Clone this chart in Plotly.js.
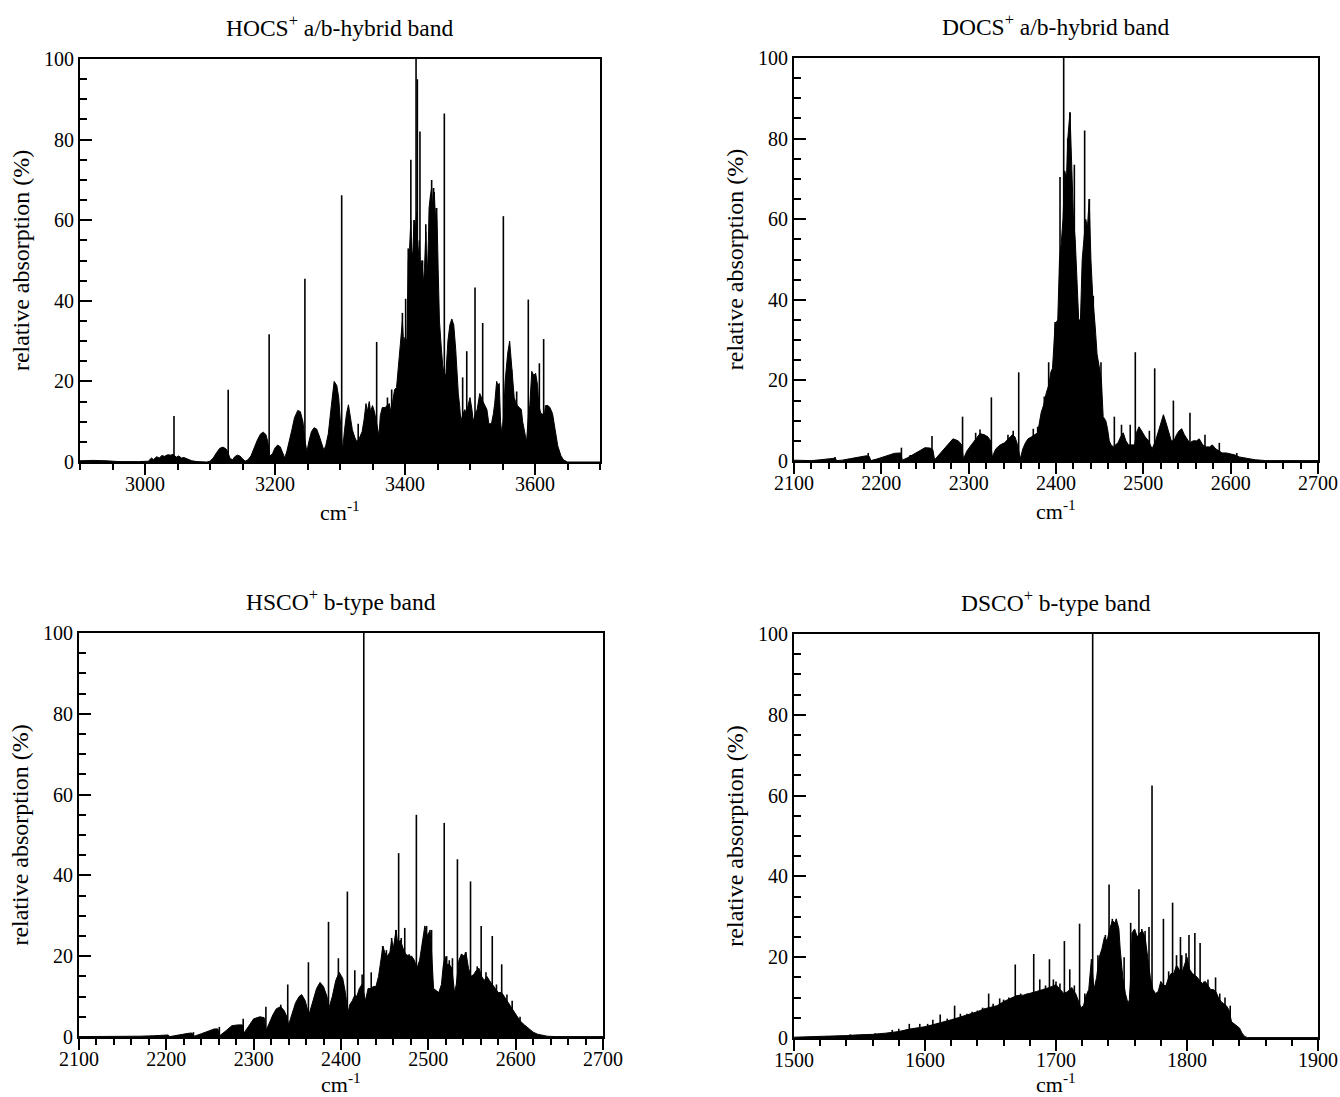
<!DOCTYPE html>
<html><head><meta charset="utf-8">
<script src="https://cdn.plot.ly/plotly-3.0.1.min.js"></script>
<style>html,body{margin:0;padding:0;background:#fff}#chart{width:1340px;height:1097px}</style>
</head><body><div id="chart"></div>
<script>
// ---------- Panel titles ----------
const panelTitles = ["HOCS<sup>+</sup> a/b-hybrid band", "DOCS<sup>+</sup> a/b-hybrid band",
                     "HSCO<sup>+</sup> b-type band", "DSCO<sup>+</sup> b-type band"];
const xTitle = "cm<sup>-1</sup>";
const yTitle = "relative absorption (%)";

// ---------- HOCS+ (envelope + strong lines) ----------
const hocsEnvX = [2900,2920,2940,2960,2990,3005,3010,3013,3018,3022,3026,3030,3035,3040,3043,3048,3052,3056,3060,3066,3072,3080,3095,3100,3105,3110,3115,3120,3125,3128,3131,3135,3138,3142,3146,3150,3154,3158,3163,3168,3173,3178,3182,3186,3189,3192,3196,3200,3204,3208,3212,3215,3218,3222,3226,3230,3235,3239,3243,3246,3249,3252,3256,3260,3264,3268,3272,3275,3278,3282,3286,3291,3295,3298,3301,3304,3307,3310,3313,3316,3319,3323,3326,3330,3334,3337,3340,3342,3345,3347,3350,3353,3355,3358,3360,3362,3365,3370,3372,3376,3378,3381,3384,3387,3389,3391,3394,3396,3398,3400,3403,3405,3407,3409,3411,3413,3414,3416,3418,3420,3422,3424,3426,3428,3430,3432,3434,3436,3437,3439,3441,3443,3445,3447,3449,3451,3453,3456,3458,3461,3463,3466,3469,3472,3475,3478,3480,3482,3484,3486,3489,3492,3494,3497,3500,3503,3505,3508,3511,3515,3517,3520,3523,3526,3529,3533,3536,3538,3541,3543,3545,3547,3549,3552,3554,3556,3558,3561,3563,3565,3568,3570,3573,3576,3579,3581,3584,3587,3590,3592,3595,3598,3601,3604,3606,3609,3611,3614,3616,3620,3623,3627,3631,3635,3640,3644,3650,3700];
const hocsEnvY = [0.3,0.4,0.3,0.1,0.1,0.2,1.0,0.6,1.3,1.0,1.6,1.4,1.8,1.7,1.9,1.2,1.5,1.0,1.1,0.7,0.3,0.1,0,0.2,1.0,2.3,3.4,3.7,3.2,2.2,0.8,0.6,1.3,1.7,1.5,0.8,0.2,0.5,1.5,3.5,5.5,7.0,7.4,6.8,5.0,1.5,2.0,3.5,4.2,3.8,2.0,1.0,2.5,5.0,8.0,11.0,12.8,12.5,10.0,5.5,2.5,5.0,7.5,8.5,8.2,6.5,4.5,3.0,4.0,7.0,13.0,20.0,19.0,16.0,9.0,3.0,8.0,12.0,14.2,11.0,8.0,6.0,5.0,6.0,7.5,10.5,14.5,12.5,15.0,12.5,14.0,12.5,11.0,8.0,6.5,11.5,13.5,13.5,14.0,14.5,12.5,15.0,18.0,18.5,22.0,25.0,30.0,35.0,29.0,31.0,30.0,50.0,53.0,60.0,48.0,55.0,60.0,58.0,62.0,50.0,55.0,47.0,50.0,44.0,48.0,57.0,45.0,55.0,63.0,66.0,68.0,62.0,67.0,60.0,63.0,48.0,35.0,28.0,24.0,21.0,22.0,30.0,34.0,35.5,34.0,28.0,22.0,17.0,14.0,10.0,12.0,13.0,12.0,14.0,16.0,13.0,10.0,12.0,13.0,17.0,16.0,15.0,14.0,13.0,9.5,9.5,12.0,14.5,20.0,19.0,19.5,10.0,7.0,12.0,20.0,24.0,27.0,30.0,26.0,22.0,16.0,15.0,14.0,13.5,13.0,10.0,7.0,5.0,12.0,14.0,22.5,21.5,22.0,19.0,14.0,12.0,12.0,11.0,14.0,14.0,13.5,12.0,8.0,4.0,1.5,0.5,0,0];
const hocsLineX = [3044.6,3128,3191,3246,3302.6,3328,3356.4,3373,3379.5,3396,3401,3405,3409,3411,3414,3417,3419,3423,3427,3432,3435,3441,3444,3448,3460.5,3488.7,3495,3507.7,3519.5,3551.3,3564,3571.8,3589.7,3606.7,3613.3];
const hocsLineY = [11.4,17.9,31.7,45.5,66.2,9.5,29.8,16,18,37,40.5,53,75,52,60,100,95,82,50,59,48,70,68,63,86.5,21,27.5,43.3,34.5,61,23,17.5,40.3,24.5,30.5];

// ---------- DOCS+ ----------
const docsEnvX = [2100,2110,2120,2130,2140,2147,2149,2155,2165,2175,2183,2186,2188,2195,2205,2215,2222,2224,2230,2238,2244,2250,2256,2259,2261,2266,2272,2278,2282,2288,2292,2294,2298,2303,2308,2313,2318,2322,2325,2327,2331,2336,2341,2345,2350,2353,2356,2359,2362,2365,2368,2372,2376,2379,2383,2386,2389,2392,2394,2396,2399,2402,2404,2406,2408,2410,2412,2413.5,2416,2418,2420,2422,2424,2426,2428,2430,2432,2434,2436,2438,2440,2442,2445,2447,2449,2452,2454,2457,2459,2461,2463,2466,2468,2471,2474,2477,2480,2483,2487,2490,2492,2495,2498,2502,2506,2510,2514,2518,2520,2523,2526,2529,2532,2535,2538,2541,2544,2547,2550,2553,2557,2561,2564,2568,2572,2576,2579,2583,2587,2590,2595,2600,2605,2610,2615,2621,2628,2635,2640,2700];
const docsEnvY = [0.2,0.2,0.1,0.3,0.5,0.7,0.1,0.2,0.6,1.0,1.3,1.2,0.1,0.5,1.2,1.9,2.0,0.2,0.8,1.8,2.7,3.3,3.2,2.8,0.3,1.5,3.0,4.5,5.5,5.0,4.0,0.5,2.5,4.0,5.5,6.8,6.5,6.0,5.0,1.0,3.0,4.0,4.5,5.5,6.5,6.0,4.0,0.5,3.0,4.5,5.5,6.0,6.5,7.0,12.0,14.0,17.0,19.0,22.0,23.0,34.0,35.0,50.0,54.0,60.0,72.0,70.0,80.0,86.5,70.0,60.0,55.0,44.0,35.0,35.0,50.0,55.0,60.0,58.0,65.0,50.0,41.0,33.0,26.5,24.0,20.0,11.0,10.0,8.0,5.0,4.0,3.5,4.0,4.5,6.0,7.0,5.0,4.0,4.0,4.0,7.0,8.5,7.5,6.0,5.0,3.0,5.0,8.0,9.0,11.5,9.5,7.0,5.0,5.0,6.5,7.5,8.0,6.5,5.5,4.5,5.0,5.0,5.5,4.0,3.5,3.5,4.0,3.0,2.5,2.0,2.0,1.8,1.5,1.0,0.8,0.5,0.3,0.2,0.1,0.1];
const docsLineX = [2147,2185,2223,2233,2258,2293,2308,2313,2326,2345,2351,2357.3,2374,2379,2386.6,2391.6,2399,2404.6,2408.8,2413.4,2416,2421,2432.8,2438.2,2442.7,2451.5,2466.8,2475,2485,2490.8,2506.9,2513,2534.4,2553.4,2570.6,2587,2607];
const docsLineY = [1.0,2.0,3.3,1.5,6.2,11,7,7.8,15.8,6.5,7.5,22,8,8.5,16,24.5,34.5,70.5,100,80,86.5,73.5,82,65,41,24.5,11,9,9,27,7.5,23,15,12,6.5,4.5,2];

// ---------- HSCO+ ----------
const hscoEnvX = [2100,2150,2170,2185,2198,2202,2204,2215,2225,2229,2232,2240,2248,2255,2259,2261,2268,2275,2282,2287,2289,2295,2300,2307,2312,2314,2318,2322,2326,2331,2335,2338,2340,2344,2348,2352,2355,2359,2362,2364,2368,2372,2376,2380,2384,2386,2390,2394,2398,2402,2405,2408,2410,2413,2416,2418,2421,2424,2426,2428,2431,2434,2437,2440,2443,2446,2448,2450,2453,2456,2458,2460,2463,2465,2468,2471,2474,2478,2481,2484,2487,2490,2493,2496,2499,2502,2504,2506,2509,2512,2515,2517,2519,2521,2524,2527,2530,2532,2535,2538,2541,2543,2546,2549,2552,2555,2558,2561,2564,2567,2570,2573,2576,2580,2584,2587,2590,2593,2596,2600,2605,2610,2615,2620,2625,2630,2636,2645,2700];
const hscoEnvY = [0.1,0.1,0.2,0.3,0.5,0.5,0.1,0.6,0.9,1.0,0.2,0.8,1.5,2.0,2.0,0.3,1.5,2.8,3.0,3.0,1.0,3.0,4.5,5.0,4.8,1.5,3.5,5.5,7.0,7.5,6.5,5.0,3.0,6.0,8.5,10.0,10.5,9.0,6.5,6.0,9.0,12.0,13.5,12.5,10.0,7.0,10.0,14.0,16.0,14.5,11.0,6.0,8.0,9.0,10.5,10.0,12.0,13.0,11.0,9.0,12.0,12.0,12.5,12.5,15.0,20.0,22.5,21.0,20.0,21.0,24.0,22.0,26.5,23.0,24.0,22.0,20.5,20.0,20.0,19.0,17.0,19.0,23.0,27.5,25.0,26.5,20.0,12.0,11.5,11.0,13.0,17.5,20.0,18.0,18.0,17.0,11.0,13.0,19.0,20.5,20.0,21.0,17.0,15.0,15.5,16.5,17.0,15.0,14.0,15.0,14.0,13.0,12.0,11.0,11.0,10.0,9.0,8.0,7.0,5.5,4.0,3.0,2.0,1.2,0.7,0.4,0.2,0.1,0.1];
const hscoLineX = [2231,2260.7,2288,2314,2331,2339,2362.7,2385.7,2397,2407.3,2415.8,2424.2,2426.1,2434.6,2447.7,2452,2458,2462.8,2466,2469,2473,2478,2486.3,2494,2498,2503.7,2518.2,2521,2524,2527.6,2533.3,2538,2542.7,2548.3,2556,2560.5,2566,2573.2,2578,2584,2590,2596,2605];
const hscoLineY = [1.2,2.5,4.5,7.5,8,13,18.5,28.5,19.5,36,16.5,15.5,100,16,22.5,21.5,24.5,26.5,45.5,24.5,27,20.5,55,24,27.5,26.5,53,20,19,19.5,44,20.5,21,38.5,17.5,27.5,16,25,13,18,10.5,9,5];

// ---------- DSCO+ ----------
const dscoEnvX = [1500,1510,1520,1530,1540,1550,1560,1570,1580,1588,1595,1600,1605,1610,1615,1620,1625,1630,1635,1640,1645,1650,1655,1660,1665,1670,1675,1680,1685,1690,1695,1700,1703,1706,1709,1712,1715,1717,1719,1721,1723,1725,1727,1729,1731,1733,1735,1737,1739,1741,1743,1745,1746,1748,1749,1751,1753,1755,1756,1757,1758,1760,1762,1764,1766,1768,1770,1772,1774,1776,1778,1780,1782,1784,1786,1788,1790,1792,1794,1796,1798,1800,1802,1804,1806,1808,1810,1812,1814,1816,1818,1820,1822,1824,1826,1828,1830,1832,1834,1836,1838,1840,1842,1844,1846,1900];
const dscoEnvY = [0.2,0.3,0.3,0.4,0.6,0.8,0.9,1.2,1.6,2.2,2.5,2.8,3.2,3.6,4.0,4.5,5.0,5.5,6.0,6.5,7.2,7.6,8.0,9.0,9.8,10.5,10.6,11.0,11.5,12.0,12.5,13.2,12.0,11.0,11.5,12.5,11.0,9.0,7.5,8.0,10.5,12.0,19.5,12.0,15.0,20.0,22.0,25.0,24.0,27.0,29.0,28.5,29.5,27.0,22.0,15.0,11.0,8.5,9.5,15.0,26.0,27.0,25.0,26.0,26.5,25.0,20.0,15.0,12.0,11.0,11.5,14.0,13.0,13.0,15.0,16.0,16.0,18.0,17.0,16.0,18.0,20.0,17.0,16.0,15.5,15.0,14.0,13.5,14.0,13.0,12.0,12.0,11.5,10.0,9.0,8.5,8.0,7.0,4.0,3.5,3.0,2.5,1.2,0.4,0.1,0.1];
const dscoLineX = [1525,1543,1562,1575,1580,1588,1596,1602,1606,1611.6,1617,1622.6,1627,1632,1636,1640,1644,1648.6,1652,1657,1660,1664,1668.9,1673,1678,1683,1687.6,1692,1695,1698,1700,1703,1706.4,1710.5,1714,1718,1722,1728,1732,1737.7,1740.5,1743,1752,1757,1763.3,1765.5,1768,1771,1773.3,1782,1786,1789,1792,1795,1796,1799.3,1801.5,1806,1810,1813,1816,1821.8,1825,1829,1833];
const dscoLineY = [0.5,0.9,1.2,2.0,2.3,3.5,3.5,3.5,4.5,5.8,4.8,8,6,6,6.5,6.8,7.5,11,8.5,9.8,9.5,10,18.2,11,11,20.8,14.5,13,19.5,14.5,14,13.5,24,17,13,28.3,11,100,20.5,25.5,38,29.5,20,28.5,36.8,27,26.5,27.5,62.5,29.5,16.5,33.5,20.5,25,20.5,21,25.5,26,23.5,14,14.5,15,11,10,8];

// ---------- axis settings ----------
const xRanges = [[2900,3700],[2100,2700],[2100,2700],[1500,1900]];
const xMajor = [200,100,100,100];
const xTick0 = [3000,2100,2100,1500];
const xMinor = [50,20,20,20];

// ---------- build ----------
function sticks(xs, ys){
  const X=[],Y=[];
  xs.forEach((x,i)=>{X.push(x,x,null);Y.push(0,ys[i],null);});
  return {X,Y};
}
const panels = [
  [hocsEnvX,hocsEnvY,hocsLineX,hocsLineY],
  [docsEnvX,docsEnvY,docsLineX,docsLineY],
  [hscoEnvX,hscoEnvY,hscoLineX,hscoLineY],
  [dscoEnvX,dscoEnvY,dscoLineX,dscoLineY]
];
const W=1340,H=1097;
const boxes = [ // left, right, top, bottom in px
  [80,600,59,462],
  [794,1318,58,461],
  [79,603,633,1037],
  [794,1318,634,1038]
];
const xTitleGap = [49,49,46,45];
const traces=[];
panels.forEach((p,i)=>{
  const ax = i===0?'':String(i+1);
  traces.push({type:'scatter',mode:'lines',x:p[0],y:p[1],fill:'tozeroy',
    fillcolor:'#000',line:{color:'#000',width:1},xaxis:'x'+ax,yaxis:'y'+ax,hoverinfo:'skip'});
  const s = sticks(p[2],p[3]);
  traces.push({type:'scatter',mode:'lines',x:s.X,y:s.Y,connectgaps:false,
    line:{color:'#000',width:1.6},xaxis:'x'+ax,yaxis:'y'+ax,hoverinfo:'skip'});
});
const font = {family:'"Liberation Serif", "Times New Roman", serif', color:'#000'};
const f = s => Object.assign({size:s},font);
const layout = {width:W,height:H,margin:{l:0,r:0,t:0,b:0},showlegend:false,
  paper_bgcolor:'#fff',plot_bgcolor:'#fff',font:f(20),annotations:[]};
boxes.forEach((b,i)=>{
  const ax = i===0?'':String(i+1);
  layout['xaxis'+ax] = {
    domain:[b[0]/W,b[1]/W], anchor:'y'+ax, range:xRanges[i], showgrid:false, zeroline:false,
    showline:true, linecolor:'#000', linewidth:2, mirror:true,
    ticks:'outside', ticklen:11, tickwidth:2, tickcolor:'#000', ticklabelstandoff:-8,
    tick0:xTick0[i], dtick:xMajor[i],
    minor:{ticks:'outside',dtick:xMinor[i],tick0:xTick0[i],ticklen:6,tickwidth:2,tickcolor:'#000',showgrid:false},
    tickfont:f(20)
  };
  layout['yaxis'+ax] = {
    domain:[1-b[3]/H,1-b[2]/H], anchor:'x'+ax, range:[0,100], showgrid:false, zeroline:false,
    showline:true, linecolor:'#000', linewidth:2, mirror:true,
    ticks:'inside', ticklen:12, tickwidth:2, tickcolor:'#000', tick0:0, dtick:20,
    minor:{ticks:'inside',dtick:5,ticklen:7,tickwidth:2,tickcolor:'#000',showgrid:false},
    tickfont:f(20),
    title:{text:yTitle,font:f(24),standoff:8}
  };
  // panel title
  layout.annotations.push({text:panelTitles[i],xref:'paper',yref:'paper',
    x:(b[0]+b[1])/2/W, y:1-(b[2]-33)/H, xanchor:'center',yanchor:'middle',showarrow:false,
    font:f(23.5)});
  // x-axis title
  layout.annotations.push({text:xTitle,xref:'paper',yref:'paper',
    x:(b[0]+b[1])/2/W, y:1-(b[3]+xTitleGap[i])/H, xanchor:'center',yanchor:'middle',showarrow:false,
    font:f(22)});
});
Plotly.newPlot('chart',traces,layout,{staticPlot:true});
</script>
</body></html>
